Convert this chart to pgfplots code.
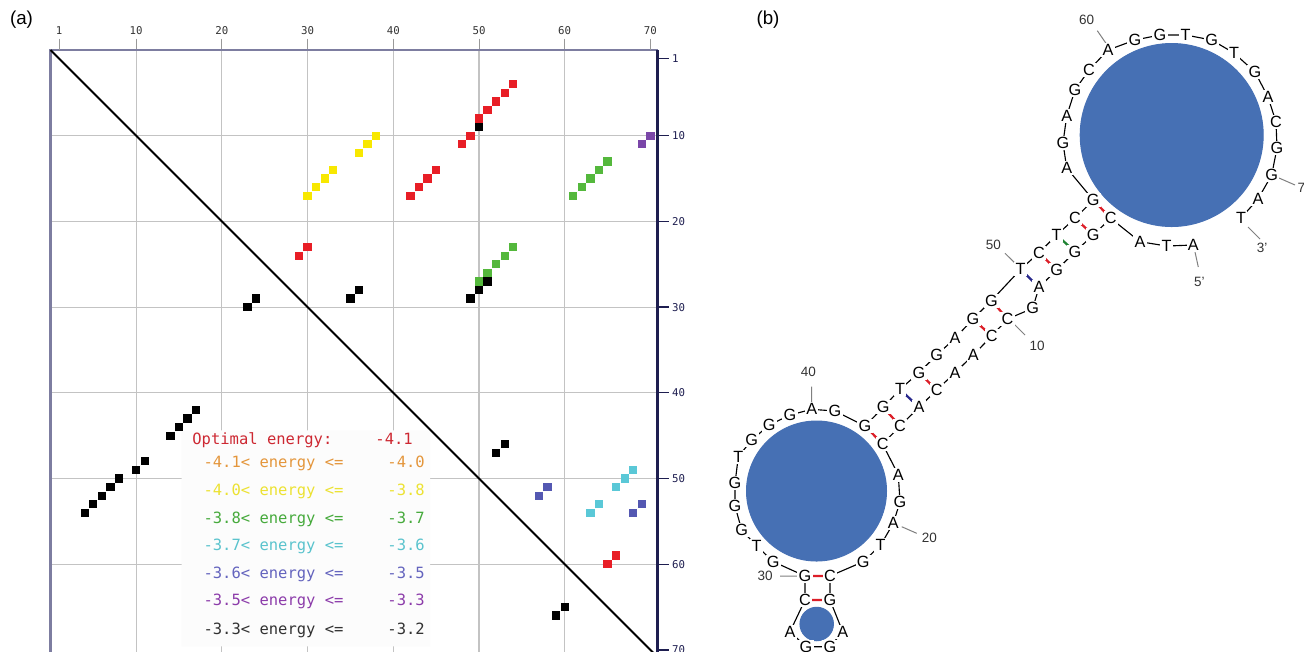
\documentclass[border=0pt]{standalone}
\usepackage{pgfplots}
\pgfplotsset{compat=1.18}
\usepackage{pgfplotstable}
\usepackage{fontspec}
\setmainfont{Liberation Sans}
\newfontfamily\monofont{DejaVu Sans Mono}
\definecolor{sqred}{RGB}{232,30,38}
\definecolor{sqyellow}{RGB}{248,232,0}
\definecolor{sqgreen}{RGB}{84,184,60}
\definecolor{sqcyan}{RGB}{90,200,215}
\definecolor{sqblue}{RGB}{84,88,178}
\definecolor{sqpurple}{RGB}{122,70,168}
\definecolor{txred}{RGB}{205,40,50}
\definecolor{txorange}{RGB}{228,150,60}
\definecolor{txyellow}{RGB}{236,226,50}
\definecolor{txgreen}{RGB}{70,170,60}
\definecolor{txcyan}{RGB}{90,195,205}
\definecolor{txblue}{RGB}{100,100,190}
\definecolor{txpurple}{RGB}{140,60,170}
\definecolor{txblack}{RGB}{50,50,50}
\definecolor{framecol}{RGB}{125,125,160}
\definecolor{navy}{RGB}{30,30,80}
\definecolor{gridcol}{RGB}{195,195,195}
\definecolor{loopblue}{RGB}{70,112,180}
\definecolor{pairred}{RGB}{220,30,40}
\definecolor{pairgreen}{RGB}{30,130,50}
\definecolor{pairblue}{RGB}{40,40,140}
\newcommand\legfont{\monofont\fontsize{6.2}{7.5}\selectfont}
\newcommand\basefont{\fontsize{6.5}{7.5}\selectfont}
\newcommand\numfont{\fontsize{5.4}{6.5}\selectfont}

\pgfplotstableread{
n x y b
1 1193.3 245 A
2 1166.7 246 T
3 1140 241.7 A
4 1110.7 218.3 C
5 1093.3 235 G
6 1075 251.7 G
7 1056.7 270 G
8 1039 287.3 A
9 1032.7 308.3 G
10 1007.5 319 C
11 991.7 336 C
12 973.3 355 A
13 955 372.7 A
14 936.7 390 C
15 919 407.3 A
16 900 426 C
17 882.7 444 C
18 898.3 475 A
19 900 501.7 G
20 893.3 523.3 A
21 880.7 545 T
22 863.3 561.7 G
23 830 576 C
24 830 600 G
25 842.7 631.7 A
26 830 646.7 G
27 806 646.7 G
28 790 631.7 A
29 805 600 C
30 805 576 G
31 773.3 561.7 G
32 756.7 546 T
33 741.7 530 G
34 735 506 G
35 735 483.3 G
36 738.3 456.7 T
37 751.7 440 G
38 769.3 425 G
39 790 415 G
40 811.7 409.3 A
41 835 411 G
42 865 426 G
43 883.3 407.3 G
44 900 389.3 T
45 919 372.7 G
46 936.7 355 G
47 955 338.3 A
48 973 319 G
49 991.5 300.5 G
50 1020.7 269.3 T
51 1039 252.7 C
52 1056.7 235 T
53 1075 218.3 C
54 1093.3 200 G
55 1066.7 168 A
56 1063 143 G
57 1066.7 116 A
58 1075 90 G
59 1089 70 C
60 1108 50 A
61 1135 40 G
62 1160 35 G
63 1185.7 35 T
64 1211.7 40 G
65 1234 53 T
66 1255 72 G
67 1268 97 A
68 1276 122 C
69 1277 148 G
70 1271.7 175 G
71 1258 199 A
72 1241 218 T
}\seq

\pgfplotstableread{
x y t
1086.7 20 60
1305 188 70
1262 248.3 3'
1199.3 281.7 5'
993.3 245 50
1037 346 10
808.3 371.7 40
929.3 538.3 20
765 576 30
}\numlabels

\begin{document}
\begin{tikzpicture}
\path[fill=white, use as bounding box] (0,0) rectangle (521.6pt,-260.4pt);
\clip (0,0) rectangle (521.6pt,-260.4pt);

% ---------------- panel (a) ----------------
\begin{axis}[
  at={(20.2pt,-20pt)}, anchor=north west,
  scale only axis, width=242.7pt, height=246.8pt,
  xmin=0, xmax=70.8, ymin=0, ymax=72, y dir=reverse,
  clip=false,
  axis line style={draw=framecol, line width=0.9pt},
  xtick={10,20,...,60}, ytick={10,20,...,60},
  extra x ticks={1,70}, extra y ticks={1,70},
  extra x tick style={grid=none}, extra y tick style={grid=none},
  grid=major, major grid style={draw=gridcol, line width=0.45pt},
  xtick pos=right, xticklabel pos=right,
  ytick pos=right, yticklabel pos=right,
  tick align=outside, major tick length=4.6pt,
  x tick style={draw=gray!80, line width=0.4pt},
  y tick style={draw=navy, line width=0.5pt},
  ticklabel style={font=\monofont\fontsize{4.3}{5}\selectfont},
  x tick label style={text=black!80, yshift=-2pt},
  y tick label style={text=navy, xshift=-2.2pt},
  /pgf/number format/assume math mode=true,
]
% legend background
\addplot[draw=none, fill=white!98!gray] coordinates {(15.3,44.4) (44.3,44.4) (44.3,69.6) (15.3,69.6) (15.3,44.4)};
% diagonal
\addplot[black, line width=0.8pt] coordinates {(0,0) (70.8,70.8)};
% right axis line
\addplot[navy, line width=1.1pt] coordinates {(70.8,0) (70.8,72)};

\addplot[only marks, mark=square*, mark size=1.45pt, color=sqred] coordinates {
(54,4) (53,5) (52,6) (51,7) (50,8) (49,10) (48,11) (45,14) (44,15) (43,16) (42,17)
(30,23) (29,24) (66,59) (65,60)};
\addplot[only marks, mark=square*, mark size=1.45pt, color=sqyellow] coordinates {
(38,10) (37,11) (36,12) (33,14) (32,15) (31,16) (30,17)};
\addplot[only marks, mark=square*, mark size=1.45pt, color=sqgreen] coordinates {
(65,13) (64,14) (63,15) (62,16) (61,17) (54,23) (53,24) (52,25) (51,26) (50,27)};
\addplot[only marks, mark=square*, mark size=1.45pt, color=sqpurple] coordinates {
(70,10) (69,11)};
\addplot[only marks, mark=square*, mark size=1.45pt, color=sqblue] coordinates {
(58,51) (57,52) (69,53) (68,54)};
\addplot[only marks, mark=square*, mark size=1.45pt, color=sqcyan] coordinates {
(68,49) (67,50) (66,51) (64,53) (63,54)};
\addplot[only marks, mark=square*, mark size=1.45pt, color=black] coordinates {
(50,9) (51,27) (50,28) (49,29) (36,28) (35,29) (24,29) (23,30)
(17,42) (16,43) (15,44) (14,45) (11,48) (10,49) (8,50) (7,51) (6,52) (5,53) (4,54)
(53,46) (52,47) (60,65) (59,66)};

\tikzset{leg/.style={anchor=base west, inner sep=0pt, font=\legfont}}
\node[leg, text=txred] at (axis cs:16.5,46.0) {Optimal energy:};
\node[leg, text=txred] at (axis cs:37.86,46.0) {-4.1};
\node[leg, text=txorange] at (axis cs:17.8,48.72) {-4.1< energy <=};
\node[leg, text=txorange] at (axis cs:39.26,48.72) {-4.0};
\node[leg, text=txyellow] at (axis cs:17.8,52.02) {-4.0< energy <=};
\node[leg, text=txyellow] at (axis cs:39.26,52.02) {-3.8};
\node[leg, text=txgreen] at (axis cs:17.8,55.25) {-3.8< energy <=};
\node[leg, text=txgreen] at (axis cs:39.26,55.25) {-3.7};
\node[leg, text=txcyan] at (axis cs:17.8,58.44) {-3.7< energy <=};
\node[leg, text=txcyan] at (axis cs:39.26,58.44) {-3.6};
\node[leg, text=txblue] at (axis cs:17.8,61.67) {-3.6< energy <=};
\node[leg, text=txblue] at (axis cs:39.26,61.67) {-3.5};
\node[leg, text=txpurple] at (axis cs:17.8,64.86) {-3.5< energy <=};
\node[leg, text=txpurple] at (axis cs:39.26,64.86) {-3.3};
\node[leg, text=txblack] at (axis cs:17.8,68.16) {-3.3< energy <=};
\node[leg, text=txblack] at (axis cs:39.26,68.16) {-3.2};
\end{axis}

% ---------------- panel (b) ----------------
\begin{axis}[
  at={(280pt,0pt)}, anchor=north west,
  scale only axis, width=241.6pt, height=260.4pt,
  xmin=700, xmax=1304, ymin=0, ymax=651, y dir=reverse,
  hide axis, clip=false,
]
\addplot[only marks, mark=*, mark size=36.6pt, color=loopblue] coordinates {(1171.7,135)};
\addplot[only marks, mark=*, mark size=28pt, color=loopblue] coordinates {(816.5,491)};
\addplot[only marks, mark=*, mark size=6.7pt, color=loopblue] coordinates {(816.7,624)};
% backbone
\addplot[black, line width=0.45pt] table[x=x, y=y] {\seq};
% base pairs
\addplot[pairred, line width=0.9pt, unbounded coords=jump] table {
x y
1093.3 200
1110.7 218.3
nan nan
1075 218.3
1093.3 235
nan nan
1039 252.7
1056.7 270
nan nan
991.5 300.5
1007.5 319
nan nan
973 319
991.7 336
nan nan
919 372.7
936.7 390
nan nan
883.3 407.3
900 426
nan nan
865 426
882.7 444
nan nan
805 576
830 576
nan nan
805 600
830 600
};
\addplot[pairgreen, line width=0.9pt] coordinates {(1056.7,235) (1075,251.7)};
\addplot[pairblue, line width=0.9pt, unbounded coords=jump] table {
x y
1020.7 269.3
1039 287.3
nan nan
900 389.3
919 407.3
};
% label leader lines
\addplot[gray, line width=0.4pt, unbounded coords=jump] table {
x y
1097.3 30.7
1106 43.3
nan nan
1279 178
1295 185
nan nan
1248 227
1260 239
nan nan
1195 252
1198.3 267
nan nan
1005 253.3
1016 264
nan nan
1013 323
1025 335
nan nan
811.7 386.7
811.7 402
nan nan
901.7 526.7
916.7 533.3
nan nan
780 576
797 576
};
% letters
\addplot[draw=none, nodes near coords, point meta=explicit symbolic,
  every node near coord/.append style={anchor=center, font=\basefont, fill=white, inner sep=0.5pt, text=black}]
  table[x=x, y=y, meta=b] {\seq};
% numbers
\addplot[draw=none, nodes near coords, point meta=explicit symbolic,
  every node near coord/.append style={anchor=center, font=\numfont, inner sep=0pt, text=black!80}]
  table[x=x, y=y, meta=t] {\numlabels};
\end{axis}

\node[font=\fontsize{7.5}{9}\selectfont] at (8.6pt,-8pt) {(a)};
\node[font=\fontsize{7.5}{9}\selectfont] at (307.2pt,-8pt) {(b)};
\end{tikzpicture}
\end{document}
